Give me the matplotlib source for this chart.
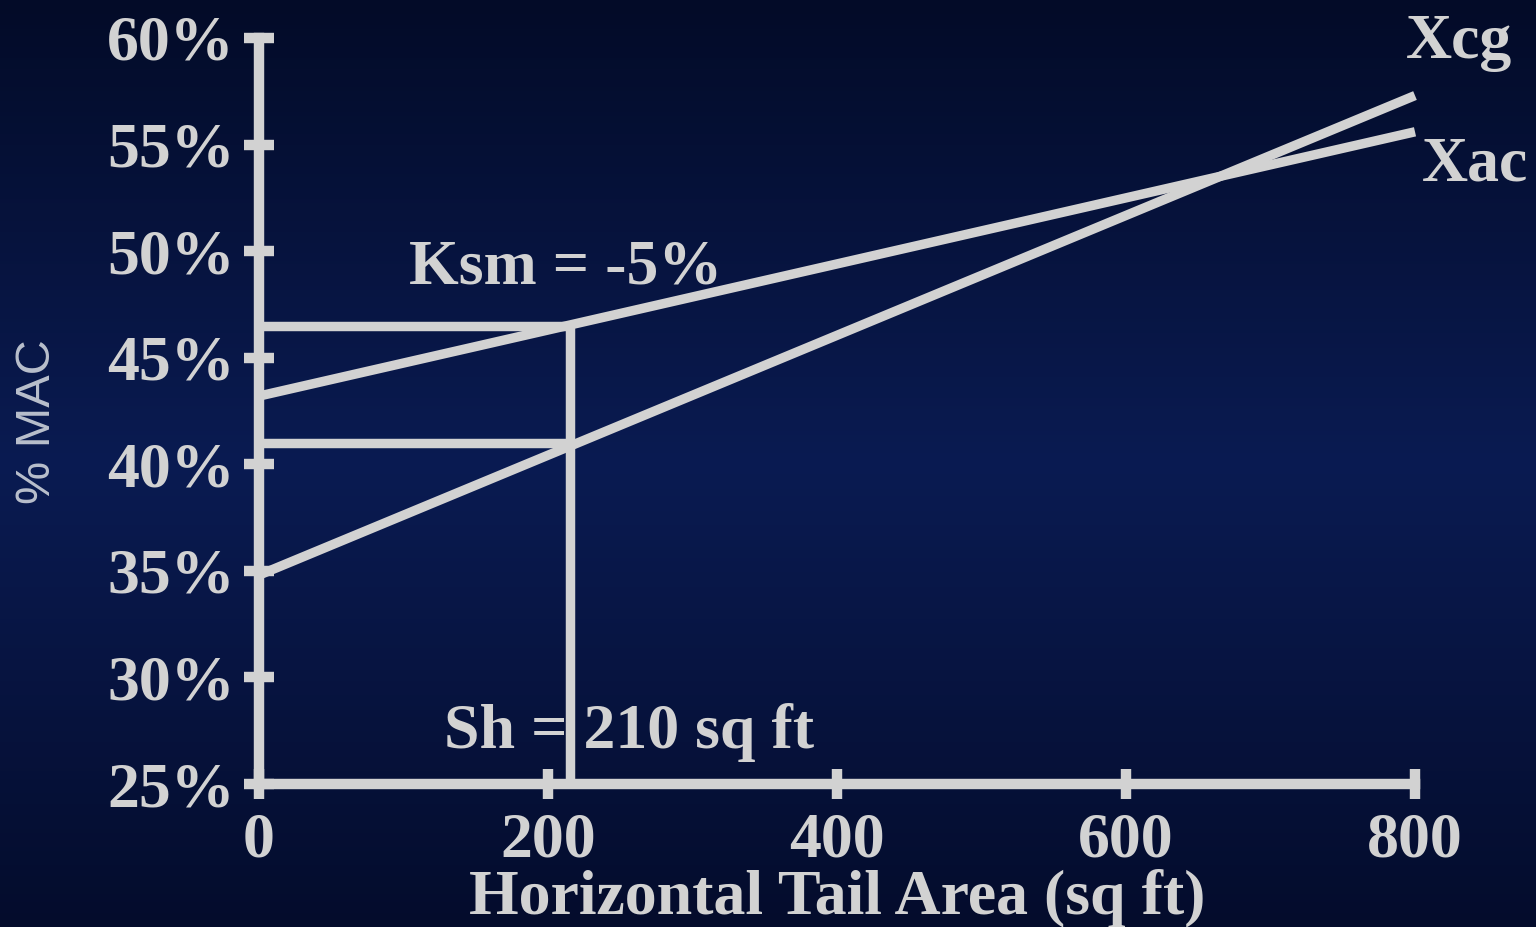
import numpy as np
import matplotlib
matplotlib.use("Agg")
from matplotlib import pyplot as plt
from matplotlib.colors import LinearSegmentedColormap

# data
tail_area = [0, 800]
xcg = [34.8, 57.3]
xac = [43.2, 55.6]
sh = 215
ksm_upper = 46.5
ksm_lower = 41.0

x_ticks = [0, 200, 400, 600, 800]
y_ticks = [25, 30, 35, 40, 45, 50, 55, 60]
y_ticklabels = ["25%", "30%", "35%", "40%", "45%", "50%", "55%", "60%"]

fg = "#d2d2d2"
serif = dict(family="Liberation Serif", weight="bold", color=fg)
fs = 46

fig = plt.figure(figsize=(15.36, 9.27), dpi=100)

# background gradient
bg = fig.add_axes([0, 0, 1, 1], zorder=-10)
cmap = LinearSegmentedColormap.from_list(
    "bg", [(0.0, "#030b28"), (0.5, "#0a1b52"), (1.0, "#040c2c")])
bg.imshow(np.linspace(0, 1, 256).reshape(-1, 1), aspect="auto", cmap=cmap,
          extent=[0, 1, 0, 1], origin="upper")
bg.set_axis_off()

ax = fig.add_axes([259 / 1536, 1 - 784 / 927, (1415 - 259) / 1536, (784 - 38) / 927])
ax.set_facecolor("none")

lw = 6.8
ax.plot(tail_area, xcg, color=fg, lw=lw, solid_capstyle="butt", clip_on=False)
ax.plot(tail_area, xac, color=fg, lw=lw, solid_capstyle="butt", clip_on=False)
ax.plot([0, sh], [ksm_upper, ksm_upper], color=fg, lw=lw, solid_capstyle="butt")
ax.plot([0, sh], [ksm_lower, ksm_lower], color=fg, lw=lw, solid_capstyle="butt")
ax.plot([sh, sh], [25, ksm_upper], color=fg, lw=lw, solid_capstyle="butt")

ax.set_xlim(0, 800)
ax.set_ylim(25, 60)
ax.set_xticks(x_ticks)
ax.set_yticks(y_ticks)
ax.set_yticklabels(y_ticklabels)

for side in ["top", "right"]:
    ax.spines[side].set_visible(False)
for side in ["left", "bottom"]:
    ax.spines[side].set_color(fg)
    ax.spines[side].set_linewidth(7.5)
    ax.spines[side].set_capstyle("projecting")

ax.tick_params(direction="inout", length=21, width=7.5, color=fg, labelcolor=fg)
ax.tick_params(axis="y", pad=7)
ax.tick_params(axis="x", pad=10)
for lab in ax.get_xticklabels() + ax.get_yticklabels():
    lab.set_fontfamily("Liberation Serif")
    lab.set_fontweight("bold")
    lab.set_fontsize(fs)

ax.set_xlabel("Horizontal Tail Area (sq ft)", fontsize=fs, labelpad=-1, **serif)
fig.text(37 / 1536, 1 - 422 / 927, "% MAC", rotation=90, ha="center", va="center",
         fontsize=35, family="Liberation Sans", color="#b9bfcc")

ax.text(104, 48.5, "Ksm = -5%", fontsize=fs, ha="left", va="baseline", **serif)
ax.text(128, 26.7, "Sh = 210 sq ft", fontsize=fs, ha="left", va="baseline", **serif)
ax.text(794, 59.05, "Xcg", fontsize=fs, ha="left", va="baseline", clip_on=False, **serif)
ax.text(805, 53.3, "Xac", fontsize=fs, ha="left", va="baseline", clip_on=False, **serif)

fig.savefig("out.png", dpi=100)
plt.close(fig)
